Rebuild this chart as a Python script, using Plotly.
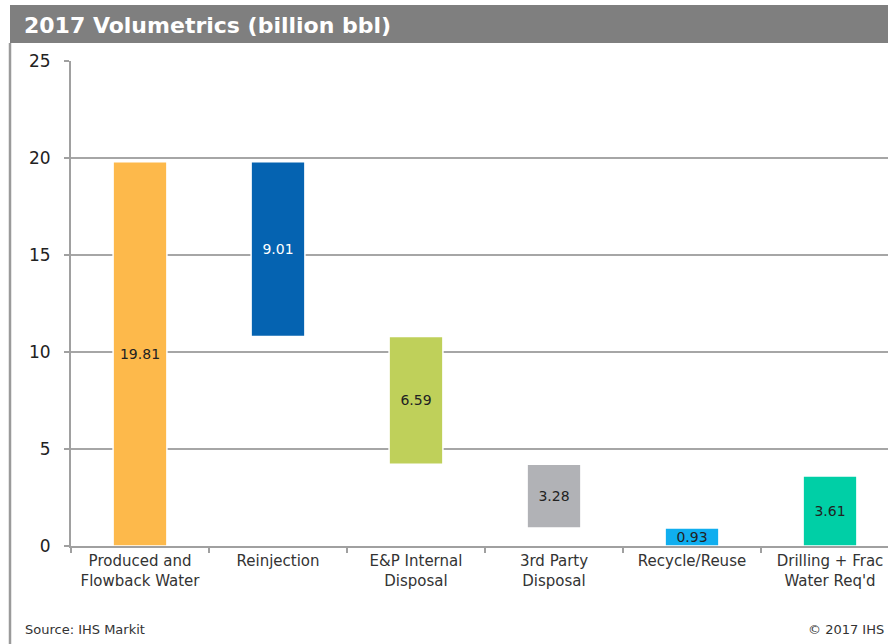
import plotly.graph_objects as go

categories = ["Produced and<br>Flowback Water", "Reinjection", "E&P Internal<br>Disposal",
              "3rd Party<br>Disposal", "Recycle/Reuse", "Drilling + Frac<br>Water Req'd"]
values = [19.81, 9.01, 6.59, 3.28, 0.93, 3.61]
# waterfall: first is total, next four are decrements, last is standalone
kinds = ["total", "down", "down", "down", "down", "total"]
colors = ["#FDB94B", "#0563B1", "#BFD05A", "#B1B2B6", "#10AEEF", "#00CFA6"]
label_colors = ["#222222", "#FFFFFF", "#222222", "#222222", "#222222", "#222222"]
y_ticks = [0, 5, 10, 15, 20, 25]

bases = []
running = 0.0
for v, k in zip(values, kinds):
    if k == "total":
        bases.append(0.0)
        running = v
    else:
        running -= v
        bases.append(running)

W, H = 888, 644
L, T, B = 71, 61, 98
pw = W - L
ph = H - T - B
cat_px = 138.0
FONT = "DejaVu Sans, Liberation Sans, Arial"

def px(x):
    return (x - L) / pw

def py(y):  # y in pixels from top of figure
    return (H - B - y) / ph

fig = go.Figure()
fig.add_trace(go.Bar(
    x=categories, y=values, base=bases,
    marker=dict(color=colors, line=dict(color="white", width=1.5)),
    width=0.39,
    text=[f"{v:.2f}" for v in values],
    textposition="inside", insidetextanchor="middle", constraintext="none",
    textangle=0,
    textfont=dict(size=14, color=label_colors, family=FONT),
    hoverinfo="skip",
))

fig.update_layout(
    width=W, height=H,
    margin=dict(l=L, r=0, t=T, b=B),
    paper_bgcolor="white", plot_bgcolor="white",
    showlegend=False,
    font=dict(family=FONT, color="#333333"),
    xaxis=dict(
        range=[-0.5, -0.5 + pw / cat_px],
        showgrid=False, showline=True, linecolor="#A0A0A0", linewidth=2,
        ticks="outside", tickson="boundaries", ticklen=5, tickcolor="#A0A0A0", tickwidth=2,
        tickfont=dict(size=15, color="#333333", family=FONT),
        fixedrange=True,
    ),
    yaxis=dict(
        range=[0, 25], tickvals=y_ticks,
        showgrid=True, gridcolor="#A6A6A6", gridwidth=1.5,
        showline=True, linecolor="#A0A0A0", linewidth=2,
        ticks="outside", ticklen=5, tickcolor="#A0A0A0", tickwidth=2,
        tickfont=dict(size=17, color="#222222", family=FONT),
        ticklabelstandoff=10,
        zeroline=False, fixedrange=True,
    ),
    shapes=[
        dict(type="rect", xref="paper", yref="paper",
             x0=px(10), x1=px(W + 5), y0=py(43), y1=py(5),
             fillcolor="#7F7F7F", line=dict(width=0), layer="above"),
        dict(type="line", xref="paper", yref="paper",
             x0=px(10), x1=px(10), y0=py(43), y1=py(H + 5),
             line=dict(color="#9A9A9A", width=2.5)),
    ],
    annotations=[
        dict(text="<b>2017 Volumetrics (billion bbl)</b>", xref="paper", yref="paper",
             x=px(22), y=py(25), xanchor="left", yanchor="middle", showarrow=False,
             font=dict(size=22, color="white", family=FONT)),
        dict(text="Source: IHS Markit", xref="paper", yref="paper",
             x=px(23), y=py(629), xanchor="left", yanchor="middle", showarrow=False,
             font=dict(size=13, color="#333333", family=FONT)),
        dict(text="© 2017 IHS", xref="paper", yref="paper",
             x=px(806), y=py(629), xanchor="left", yanchor="middle", showarrow=False,
             font=dict(size=13, color="#333333", family=FONT)),
    ],
)

fig.write_html("out.html", config={"displayModeBar": False},
               post_script="document.body.style.margin='0px';")
